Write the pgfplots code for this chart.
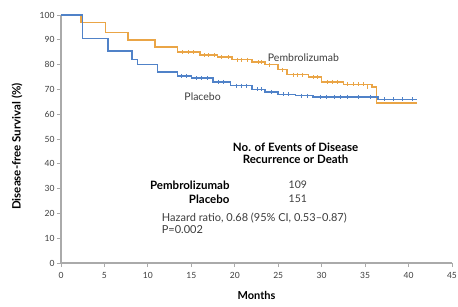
\documentclass[border=0pt]{standalone}
\usepackage{pgfplots}
\pgfplotsset{compat=1.18}
\usepackage{fontspec}
\setmainfont{Lato}
\definecolor{pembro}{RGB}{234,165,70}
\definecolor{placebo}{RGB}{80,130,200}
\definecolor{axgray}{RGB}{170,170,170}
\definecolor{txt}{RGB}{60,60,60}
\begin{document}
\begin{tikzpicture}
\useasboundingbox (-61pt,-43pt) rectangle (397pt,263pt);
\begin{axis}[
  at={(0pt,0pt)}, anchor=south west,
  scale only axis, width=391pt, height=248pt,
  xmin=0, xmax=45, ymin=0, ymax=100,
  axis lines=left, axis line style={axgray, line width=1.3pt, -},
  xtick={0,5,...,45}, ytick={0,10,...,100},
  tick align=outside, major tick length=4pt,
  tick style={axgray, line width=0.8pt},
  tick label style={font=\fontsize{8.5}{10}\selectfont, text=txt},
  yticklabel style={xshift=1pt},
  xticklabel style={yshift=-2pt},
  /pgf/number format/assume math mode=true,
  clip=false,
]
\addplot[const plot, pembro, line width=1.5pt] coordinates {
(0,100) (2.3,97) (5.1,93) (7.7,90) (10.8,87) (13.4,85) (16,83.8) (18,83) (19.7,82)
(22,81) (23.5,80) (25,78) (26,76) (28.5,75) (30,73) (32.5,72) (35.8,71) (36.3,64.5) (41,64.5)};
\addplot[const plot, placebo, line width=1.5pt] coordinates {
(0,100) (2.5,90.5) (5.4,85.5) (8.2,82) (8.8,80) (11.1,77) (13.4,75.5) (15,74.5) (17.5,73)
(19.5,71.5) (22,70) (23.5,69) (25,68) (27,67.5) (29,67) (36.5,66) (41,66)};
\addplot[only marks, mark=|, mark size=2pt, pembro, line width=0.6pt] coordinates {
(14,85) (14.6,85) (15.2,85) (16.5,83.8) (17,83.8) (17.6,83.8) (18.5,83) (19.2,83) (20.3,82)
(20.8,82) (21.4,82) (22.7,81) (23.1,81) (24,80) (25.5,78) (26.7,76) (27.2,76) (27.8,76)
(29,75) (29.5,75) (30.6,73) (31.2,73) (31.8,73) (33,72) (33.6,72) (34.2,72) (34.8,72) (35.3,71)};
\addplot[only marks, mark=|, mark size=2pt, placebo, line width=0.6pt] coordinates {
(13.9,75.5) (14.4,75.5) (15.6,74.5) (16.1,74.5) (16.8,74.5) (18.1,73) (18.7,73) (20.2,71.5)
(20.7,71.5) (21.3,71.5) (22.6,70) (23,70) (24.2,69) (25.6,68) (26.2,68) (27.6,67.5) (28.3,67.5)
(29.8,67) (30.5,67) (31.4,67) (32.1,67) (33,67) (34.2,67) (35.6,67) (37.2,66) (38.2,66) (39.3,66) (40.4,66)};
\node[font=\fontsize{10.5}{12}\selectfont, text=txt] at (axis cs:27.9,82.7) {Pembrolizumab};
\node[font=\fontsize{10.5}{12}\selectfont, text=txt] at (axis cs:16.3,67) {Placebo};
\node[font=\fontsize{11.5}{12}\selectfont\bfseries, align=center] at (axis cs:27,44.2) {No. of Events of Disease\\Recurrence or Death};
\node[font=\fontsize{11.5}{12}\selectfont\bfseries, anchor=east] at (axis cs:19.8,31.5) {Pembrolizumab};
\node[font=\fontsize{11.5}{12}\selectfont\bfseries, anchor=east] at (axis cs:19.8,25.8) {Placebo};
\node[font=\fontsize{10.5}{12}\selectfont, text=txt, anchor=west] at (axis cs:25.8,31.5) {109};
\node[font=\fontsize{10.5}{12}\selectfont, text=txt, anchor=west] at (axis cs:25.8,25.8) {151};
\node[font=\fontsize{11}{12}\selectfont, text=txt, anchor=west] at (axis cs:11.2,18.1) {Hazard ratio, 0.68 (95\% CI, 0.53--0.87)};
\node[font=\fontsize{11}{12}\selectfont, text=txt, anchor=west] at (axis cs:11.2,13.3) {P=0.002};
\node[font=\fontsize{11}{12}\selectfont\bfseries] at (axis description cs:0.5,0) [yshift=-32pt] {Months};
\node[font=\fontsize{11.5}{12}\selectfont\bfseries, xshift=-44pt, rotate=90] at (axis description cs:0,0.47) {Disease-free Survival (\%)};
\end{axis}
\end{tikzpicture}
\end{document}
